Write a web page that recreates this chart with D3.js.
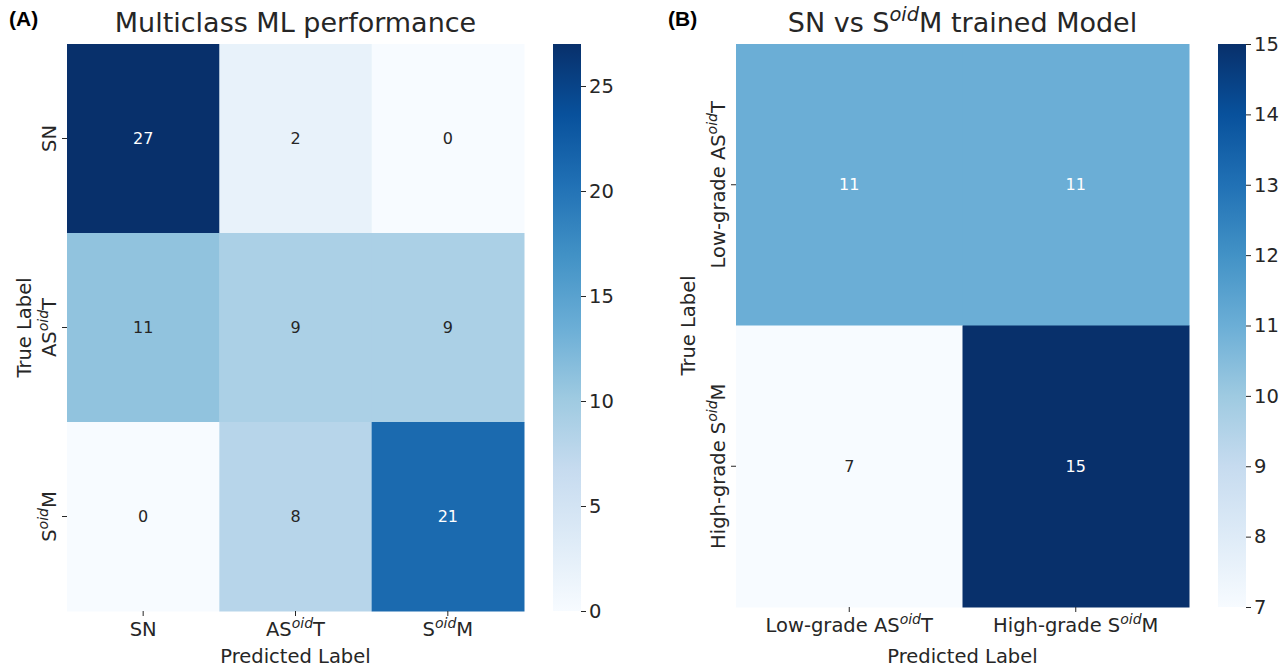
<!DOCTYPE html>
<html><head><meta charset="utf-8">
<script src="https://cdn.jsdelivr.net/npm/d3@7"></script>
<style>body{margin:0;background:#fff}svg{display:block;font-family:"DejaVu Sans",sans-serif}</style>
</head><body><svg id="c" width="1287" height="669"></svg>
<script>
// ---- data ----
const rowsA = ["SN", "AS{oid}T", "S{oid}M"];
const colsA = ["SN", "AS{oid}T", "S{oid}M"];
const valuesA = [[27, 2, 0], [11, 9, 9], [0, 8, 21]];
const ticksA = [0, 5, 10, 15, 20, 25];
const rangeA = [0, 27];

const rowsB = ["Low-grade AS{oid}T", "High-grade S{oid}M"];
const colsB = ["Low-grade AS{oid}T", "High-grade S{oid}M"];
const valuesB = [[11, 11], [7, 15]];
const ticksB = [7, 8, 9, 10, 11, 12, 13, 14, 15];
const rangeB = [7, 15];

const bluesStops = ["#f7fbff","#deebf7","#c6dbef","#9ecae1","#6baed6","#4292c6","#2171b5","#08519c","#08306b"];

const svg = d3.select("#c");
const TXT = "#262626";
const FS = 19.5;

function richText(sel, label, fs) {
  const parts = label.split(/(\{[^}]*\})/).filter(s => s.length);
  const up = fs * 0.42;
  let pending = 0;
  parts.forEach(p => {
    if (p.startsWith("{")) {
      sel.append("tspan").attr("font-style", "italic").attr("font-size", fs * 0.72)
        .attr("dy", -up).text(p.slice(1, -1));
      pending = up;
    } else {
      const ts = sel.append("tspan").text(p);
      if (pending) { ts.attr("dy", pending); pending = 0; }
    }
  });
}

function lum(c) {
  const r = d3.rgb(c);
  const f = v => { v /= 255; return v <= 0.03928 ? v / 12.92 : Math.pow((v + 0.055) / 1.055, 2.4); };
  return 0.2126 * f(r.r) + 0.7152 * f(r.g) + 0.0722 * f(r.b);
}

function panel(o) {
  const g = svg.append("g");
  const x = d3.scaleBand().domain(d3.range(o.cols.length)).range([o.x0, o.x1]);
  const y = d3.scaleBand().domain(d3.range(o.rows.length)).range([o.y0, o.y1]);
  const t = d3.scaleLinear().domain(d3.range(bluesStops.length)).range(bluesStops);
  const cs = v => t((v - o.range[0]) / (o.range[1] - o.range[0]) * (bluesStops.length - 1));

  const cells = [];
  o.values.forEach((row, i) => row.forEach((v, j) => cells.push({i, j, v})));
  g.selectAll("rect.cell").data(cells).join("rect")
    .attr("x", d => x(d.j)).attr("y", d => y(d.i))
    .attr("width", x.bandwidth() + 0.5).attr("height", y.bandwidth() + 0.5)
    .attr("fill", d => cs(d.v));
  g.selectAll("text.ann").data(cells).join("text")
    .attr("x", d => x(d.j) + x.bandwidth() / 2).attr("y", d => y(d.i) + y.bandwidth() / 2)
    .attr("text-anchor", "middle").attr("dominant-baseline", "central")
    .attr("font-size", 16).attr("fill", d => lum(cs(d.v)) > 0.408 ? TXT : "#ffffff")
    .text(d => d.v);

  // x axis
  const xa = g.append("g").attr("transform", `translate(0,${o.y1})`)
    .call(d3.axisBottom(x).tickSize(5).tickFormat(""));
  xa.select(".domain").remove();
  xa.selectAll("line").attr("stroke", TXT);
  o.cols.forEach((c, j) => {
    const tx = g.append("text").attr("x", x(j) + x.bandwidth() / 2).attr("y", o.y1 + 25)
      .attr("text-anchor", "middle").attr("font-size", FS).attr("fill", TXT);
    richText(tx, c, FS);
  });
  // y axis
  const ya = g.append("g").attr("transform", `translate(${o.x0},0)`)
    .call(d3.axisLeft(y).tickSize(5).tickFormat(""));
  ya.select(".domain").remove();
  ya.selectAll("line").attr("stroke", TXT);
  o.rows.forEach((r, i) => {
    const cy = y(i) + y.bandwidth() / 2;
    const tx = g.append("text").attr("transform", `translate(${o.x0 - 11},${cy}) rotate(-90)`)
      .attr("text-anchor", "middle").attr("font-size", FS).attr("fill", TXT);
    richText(tx, r, FS);
  });
  g.append("text").attr("x", (o.x0 + o.x1) / 2).attr("y", 663).attr("text-anchor", "middle")
    .attr("font-size", FS).attr("fill", TXT).text("Predicted Label");
  g.append("text").attr("transform", `translate(${o.ylx},${(o.y0 + o.y1) / 2}) rotate(-90)`)
    .attr("text-anchor", "middle").attr("font-size", FS).attr("fill", TXT).text("True Label");
  const tt = g.append("text").attr("x", (o.x0 + o.x1) / 2).attr("y", 32).attr("text-anchor", "middle")
    .attr("font-size", 27).attr("fill", TXT);
  richText(tt, o.title, 27);
  g.append("text").attr("x", o.tagx).attr("y", 26).attr("font-family", "Liberation Sans, Arial, sans-serif")
    .attr("font-weight", "bold").attr("font-size", 21).attr("fill", "#000").text(o.tag);

  // colorbar
  const cb = d3.scaleLinear().domain(o.range).range([o.y1, o.y0]);
  const id = "grad" + o.tag.replace(/\W/g, "");
  const grad = svg.append("defs").append("linearGradient").attr("id", id)
    .attr("x1", 0).attr("y1", 1).attr("x2", 0).attr("y2", 0);
  bluesStops.forEach((c, k) => grad.append("stop").attr("offset", k / (bluesStops.length - 1)).attr("stop-color", c));
  g.append("rect").attr("x", o.cbx).attr("y", o.y0).attr("width", 28).attr("height", o.y1 - o.y0)
    .attr("fill", `url(#${id})`);
  const ca = g.append("g").attr("transform", `translate(${o.cbx + 28},0)`)
    .call(d3.axisRight(cb).tickValues(o.ticks).tickSize(5).tickPadding(3));
  ca.select(".domain").remove();
  ca.selectAll("line").attr("stroke", TXT);
  ca.selectAll("text").attr("font-size", FS).attr("fill", TXT).attr("font-family", "DejaVu Sans, sans-serif");
}

panel({rows: rowsA, cols: colsA, values: valuesA, range: rangeA, ticks: ticksA,
  x0: 67, x1: 524, y0: 44, y1: 611, cbx: 553, ylx: 31, title: "Multiclass ML performance",
  tag: "(A)", tagx: 9});
panel({rows: rowsB, cols: colsB, values: valuesB, range: rangeB, ticks: ticksB,
  x0: 736, x1: 1189, y0: 44, y1: 607, cbx: 1218, ylx: 695, title: "SN vs S{oid}M trained Model",
  tag: "(B)", tagx: 668});
</script></body></html>
